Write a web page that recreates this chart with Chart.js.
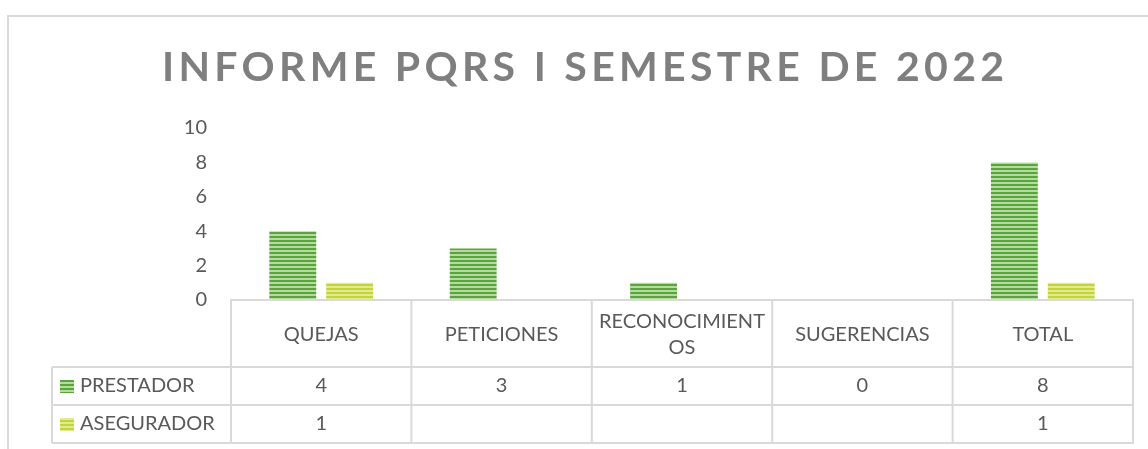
<!DOCTYPE html>
<html>
<head>
<meta charset="utf-8">
<script src="https://cdn.jsdelivr.net/npm/chart.js@4.4.1/dist/chart.umd.min.js"></script>
<style>
  html, body { margin: 0; padding: 0; background: #fff; }
  #wrap { width: 1148px; height: 449px; position: relative; }
</style>
</head>
<body>
<div id="wrap"><canvas id="pqrsChart" width="1148" height="449"></canvas></div>
<script>
// data
const chartTitle = "INFORME PQRS I SEMESTRE DE 2022";
const categories = ["QUEJAS", "PETICIONES", ["RECONOCIMIENT", "OS"], "SUGERENCIAS", "TOTAL"];
const prestador = [4, 3, 1, 0, 8];
const asegurador = [1, null, null, null, 1];
const seriesNames = ["PRESTADOR", "ASEGURADOR"];
const yTicks = [0, 2, 4, 6, 8, 10];

const textColor = "#595959";
const lineColor = "#d9d9d9";
const font = "Lato, 'Open Sans', sans-serif";

function stripes(dark, light) {
  //Horizontal striped fill like the Excel pattern
  const c = document.createElement("canvas");
  c.width = 4;
  c.height = 4;
  const g = c.getContext("2d");
  g.fillStyle = light;
  g.fillRect(0, 0, 4, 4);
  g.fillStyle = dark;
  g.fillRect(0, 0, 4, 2);
  return g.createPattern(c, "repeat");
}

const greenFill = stripes("#58a53b", "#b7d9a2");
const yellowFill = stripes("#c3d33a", "#e2ea94");
const keyFills = [greenFill, yellowFill];

const tablePlugin = {
  id: "tablePlugin",
  beforeDraw(chart) {
    const ctx = chart.ctx;
    ctx.save();
    // outer frame
    ctx.strokeStyle = lineColor;
    ctx.lineWidth = 2;
    ctx.beginPath();
    ctx.moveTo(8, 449);
    ctx.lineTo(8, 16);
    ctx.lineTo(1148, 16);
    ctx.stroke();
    // title with letter spacing
    ctx.font = "bold 41px " + font;
    ctx.fillStyle = "#7f7f7f";
    ctx.textBaseline = "middle";
    ctx.textAlign = "left";
    const plain = ctx.measureText(chartTitle).width;
    const spacing = (842 - plain) / (chartTitle.length - 1);
    ctx.letterSpacing = spacing + "px";
    ctx.fillText(chartTitle, 162, 68);
    ctx.letterSpacing = "0px";
    ctx.restore();
  },
  afterDraw(chart) {
    const ctx = chart.ctx;
    const x = chart.scales.x;
    const area = chart.chartArea;
    const colW = (area.right - area.left) / categories.length;
    const top = area.bottom;
    const headBottom = top + 67;
    const row1 = headBottom + 38;
    const row2 = row1 + 38;
    const leftCol = 52;

    ctx.save();
    ctx.strokeStyle = lineColor;
    ctx.lineWidth = 2;
    ctx.beginPath();
    // horizontal lines
    ctx.moveTo(area.left - 1, top);
    ctx.lineTo(area.right + 1, top);
    ctx.moveTo(leftCol, headBottom);
    ctx.lineTo(area.right + 1, headBottom);
    ctx.moveTo(leftCol, row1);
    ctx.lineTo(area.right + 1, row1);
    ctx.moveTo(leftCol, row2);
    ctx.lineTo(area.right + 1, row2);
    // vertical lines
    ctx.moveTo(leftCol, headBottom);
    ctx.lineTo(leftCol, row2);
    for (let i = 0; i <= categories.length; i++) {
      const lx = area.left + i * colW;
      ctx.moveTo(lx, top);
      ctx.lineTo(lx, row2);
    }
    ctx.stroke();

    ctx.fillStyle = textColor;
    ctx.font = "20px " + font;
    ctx.textAlign = "center";
    ctx.textBaseline = "middle";
    categories.forEach((cat, i) => {
      const cx = x.getPixelForValue(i);
      if (Array.isArray(cat)) {
        ctx.fillText(cat[0], cx, top + 22);
        ctx.fillText(cat[1], cx, top + 48);
      } else {
        ctx.fillText(cat, cx, top + 35);
      }
      const v1 = prestador[i];
      const v2 = asegurador[i];
      if (v1 !== null) ctx.fillText(String(v1), cx, headBottom + 19);
      if (v2 !== null) ctx.fillText(String(v2), cx, row1 + 19);
    });

    // series names with legend keys
    const rowMid = [headBottom + 19, row1 + 19];
    seriesNames.forEach((name, i) => {
      ctx.fillStyle = keyFills[i];
      ctx.fillRect(60, rowMid[i] - 6, 14, 13);
      ctx.fillStyle = textColor;
      ctx.textAlign = "left";
      ctx.fillText(name, 80, rowMid[i]);
    });
    ctx.restore();
  },
};

new Chart(document.getElementById("pqrsChart"), {
  type: "bar",
  data: {
    labels: categories,
    datasets: [
      {
        label: seriesNames[0],
        data: prestador,
        backgroundColor: greenFill,
        borderWidth: 0,
      },
      {
        label: seriesNames[1],
        data: asegurador,
        backgroundColor: yellowFill,
        borderWidth: 0,
      },
    ],
  },
  options: {
    responsive: false,
    animation: false,
    events: [],
    categoryPercentage: 0.63,
    barPercentage: 0.825,
    layout: { padding: { top: 128, bottom: 149, right: 15, left: 0 } },
    plugins: {
      legend: { display: false },
      title: { display: false },
      tooltip: { enabled: false },
    },
    scales: {
      x: { display: false },
      y: {
        min: 0,
        max: 10,
        afterBuildTicks: (scale) => {
          scale.ticks = yTicks.map((v) => ({ value: v }));
        },
        afterFit: (scale) => {
          scale.width = 231;
        },
        grid: { display: false, drawTicks: false },
        border: { display: false },
        ticks: {
          padding: 24,
          color: textColor,
          font: { family: font, size: 20 },
        },
      },
    },
  },
  plugins: [tablePlugin],
});
</script>
</body>
</html>
